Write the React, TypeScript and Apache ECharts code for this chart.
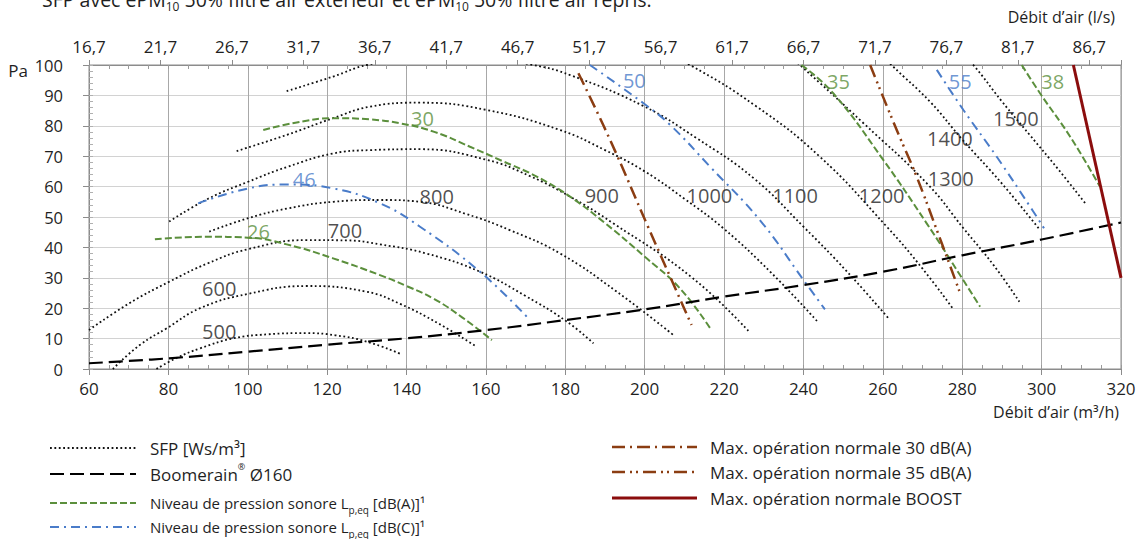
import React, { useEffect, useRef } from "react";
import * as echarts from "echarts";

const FONT = "'Open Sans', 'Noto Sans', sans-serif";

// ---------- axes ----------
const xMin = 60;
const xMax = 320;
const xStep = 20;
const yMin = 0;
const yMax = 100;
const yStep = 10;
// top axis: one tick every 5 l/s = 18 m3/h, counted from 60 m3/h
const topStep = 18;
const topTickLabels = ["16,7", "21,7", "26,7", "31,7", "36,7", "41,7", "46,7", "51,7", "56,7", "61,7", "66,7", "71,7", "76,7", "81,7", "86,7"];

// ---------- SFP iso-lines (x = m3/h, y = Pa) ----------
const sfp500 = [[77, 0], [82, 3.6], [88, 6.8], [96.4, 10.1], [105, 11.4], [114.9, 11.8], [122, 11.1], [130, 9], [138.8, 4.8]];
const sfp600 = [[66, 0], [72.8, 7.9], [79.6, 13.4], [88, 20], [100, 24.7], [114.9, 27.3], [130, 25.4], [138.4, 21.4], [148, 15], [157.3, 7.6]];
const sfp700 = [[60, 12.8], [70, 21.5], [80.2, 28.7], [90, 34.8], [100, 39.4], [114.9, 42.4], [125, 42.3], [133.3, 41], [145, 38], [158.5, 32], [170, 24], [180.4, 15.6], [187.1, 8.4]];
const sfp800 = [[90.3, 45.2], [100.1, 49.6], [110, 52.8], [121.5, 55], [133.3, 55.6], [143.4, 55], [155, 51], [166, 45.7], [178.7, 38], [193, 25.4], [207.2, 11.2]];
const sfp900 = [[80.2, 48.5], [90, 56], [100.1, 61.6], [110, 66.5], [121.5, 70.9], [130.8, 72], [143.4, 72.3], [160.2, 68.8], [171, 63.5], [181.2, 56.7], [192, 48], [212, 30], [226.5, 12]];
const sfp1000 = [[97.2, 71.7], [109.8, 77], [121.5, 82.5], [130.8, 86.3], [143.4, 87.6], [160.2, 85.2], [178.7, 78.6], [190, 72], [200, 65], [210, 56], [219.8, 46.3], [232, 31.5], [243.8, 15.2]];
const sfp1100 = [[109.8, 91.4], [121.5, 96.2], [130, 100], [150, 104.5], [171.9, 100], [181.2, 96.7], [199.7, 86.5], [213, 76], [227.5, 62.7], [240, 46.8], [251, 32], [261.4, 16.7]];
const sfp1200 = [[196, 110], [211.4, 100], [228, 86.5], [244, 70], [261, 46.8], [270, 33], [277.8, 19.6]];
const sfp1300 = [[226, 115], [239.1, 100], [255, 81], [271.5, 60.5], [280.3, 46.3], [288, 34], [294.4, 22.1]];
const sfp1400 = [[251, 115], [262.2, 100], [271.9, 87.9], [280, 75.5], [290, 61], [299.6, 45.7]];
const sfp1500 = [[273, 114], [282.8, 100], [290, 88], [297, 77], [304, 66], [311, 54.5]];
const sfpCurves = [sfp500, sfp600, sfp700, sfp800, sfp900, sfp1000, sfp1100, sfp1200, sfp1300, sfp1400, sfp1500];
const sfpLabels = [[92.8, 12.3, "500"], [92.8, 26.5, "600"], [124.5, 45.4, "700"], [147.6, 56.9, "800"], [189.2, 57.2, "900"], [216.3, 57.2, "1000"], [237.9, 57.2, "1100"], [259.7, 57.2, "1200"], [277.1, 62.7, "1300"], [276.9, 75.9, "1400"], [293.5, 82.5, "1500"]];

// ---------- system curve ----------
const boomerain = [[60, 1.9], [80, 3.5], [100, 5.7], [120, 8], [140, 10.1], [160, 12.8], [180, 16.1], [200, 19.6], [220, 23.8], [240, 27.6], [260, 32], [280, 37.4], [300, 42.6], [320, 48.2]];

// ---------- sound pressure dB(A) ----------
const dbA26 = [[76.6, 42.7], [89.6, 43.5], [100.1, 43.2], [109.8, 41], [121.5, 36.4], [133.3, 30.9], [140, 27.3], [147, 23], [154, 17], [161.5, 9.5]];
const dbA30 = [[103.9, 78.6], [112, 81], [121.5, 82.5], [130.8, 82.1], [138.4, 80.8], [147, 78], [156, 73.1], [164, 68.5], [172.8, 63.3], [181.2, 56.7], [190, 48], [200.5, 36.4], [208.9, 26.5], [216.5, 13.4]];
const dbA35 = [[239.5, 100], [247.5, 90.7], [260.1, 68.8], [271, 48], [279.4, 31], [284.5, 20.5]];
const dbA38 = [[295, 100], [299.6, 90.7], [307.2, 76.4], [314.7, 60]];
const dbACurves = [dbA26, dbA30, dbA35, dbA38];
const dbALabels = [[102.7, 45.2, "26"], [144, 82.5, "30"], [248.8, 94.5, "35"], [302.8, 94.5, "38"]];

// ---------- sound pressure dB(C) ----------
const dbC46 = [[87.5, 54.5], [100.1, 59.4], [110, 60.7], [121.5, 59.4], [133.3, 54.5], [143.4, 46.8], [158.5, 32], [170.3, 17.2]];
const dbC50 = [[186.2, 100], [199.7, 87.4], [206.4, 80.3], [216.5, 66.5], [229, 49], [240, 29.3], [245.4, 19.6]];
const dbC55 = [[273.6, 98.4], [280.3, 85.2], [288.7, 69.8], [297.1, 53.4], [300.6, 46.3]];
const dbCCurves = [dbC46, dbC50, dbC55];
const dbCLabels = [[114.2, 62.2, "46"], [197.4, 95, "50"], [279.5, 94.5, "55"]];

// ---------- operating limits ----------
const max30 = [[183.3, 97.3], [191.3, 75.3], [201, 46.3], [211.8, 14.5]];
const max35 = [[256.8, 100], [263.5, 78.6], [268.5, 63.3], [273.6, 45.7], [279.4, 25.2]];
const maxBoost = [[308, 100], [320, 30]];

// ---------- styles ----------
const GREEN = "#5b8f3c";
const BLUE = "#4a7cc9";
const BROWN = "#8b3d12";
const RED = "#8b0d0d";
const TXT = "#1f1f1f";

const styles = {
  sfp: { color: "#111", width: 1.8, type: [1.8, 2.6] as number[] },
  boom: { color: "#000", width: 2.2, type: [14, 6] as number[] },
  dbA: { color: GREEN, width: 2, type: [7, 3] as number[] },
  dbC: { color: BLUE, width: 2, type: [9, 5, 2, 5] as number[] },
  m30: { color: BROWN, width: 2.5, type: [13, 5, 2, 5] as number[] },
  m35: { color: BROWN, width: 2.5, type: [13, 5, 2, 4, 2, 5] as number[] },
  boost: { color: RED, width: 3, type: "solid" as const },
};

const NAME_SFP = "SFP [Ws/m³]";
const NAME_BOOM = "Boomerain® Ø160";
const NAME_DBA = "Niveau de pression sonore Lp,eq [dB(A)]¹";
const NAME_DBC = "Niveau de pression sonore Lp,eq [dB(C)]¹";
const NAME_M30 = "Max. opération normale 30 dB(A)";
const NAME_M35 = "Max. opération normale 35 dB(A)";
const NAME_BOOST = "Max. opération normale BOOST";

function lineSeries(name: string, data: number[][], ls: any, z: number) {
  return {
    type: "line",
    name,
    data,
    smooth: 0.45,
    symbol: "none",
    silent: true,
    z,
    lineStyle: { color: ls.color, width: ls.width, type: ls.type },
  };
}

function labelSeries(data: any[], color: string) {
  return {
    type: "scatter",
    data: data.map((d) => ({ value: [d[0], d[1]], name: d[2] })),
    symbolSize: 0,
    silent: true,
    z: 10,
    label: { show: true, position: "inside", formatter: "{b}", color, fontSize: 20, fontFamily: FONT },
  };
}

const legendLeft = [
  { text: NAME_SFP, small: false, ls: styles.sfp, y: 448 },
  { text: "Boomerain{sup|®} Ø160", small: false, ls: styles.boom, y: 474 },
  { text: "Niveau de pression sonore L{sub|p,eq} [dB(A)]¹", small: true, ls: styles.dbA, y: 503 },
  { text: "Niveau de pression sonore L{sub|p,eq} [dB(C)]¹", small: true, ls: styles.dbC, y: 527 },
];
const legendRight = [
  { text: NAME_M30, small: false, ls: styles.m30, y: 447 },
  { text: NAME_M35, small: false, ls: styles.m35, y: 472 },
  { text: NAME_BOOST, small: false, ls: styles.boost, y: 498 },
];

function legendGraphics(items: any[], x1: number, x2: number, tx: number) {
  const out: any[] = [];
  items.forEach((it) => {
    out.push({
      type: "line",
      shape: { x1, y1: it.y, x2, y2: it.y },
      style: {
        stroke: it.ls.color,
        lineWidth: it.ls.width,
        lineDash: Array.isArray(it.ls.type) ? it.ls.type : null,
      },
      silent: true,
    });
    out.push({
      type: "text",
      x: tx,
      y: it.y,
      style: {
        text: it.text,
        fill: TXT,
        fontFamily: FONT,
        fontSize: it.small ? 15 : 17,
        verticalAlign: "middle",
        rich: {
          sub: { fontSize: 10, verticalAlign: "bottom", lineHeight: 24, fontFamily: FONT, fill: TXT },
          sup: { fontSize: 9, verticalAlign: "top", lineHeight: 24, fontFamily: FONT, fill: TXT },
        },
      },
      silent: true,
    });
  });
  return out;
}

export default function App() {
  const ref = useRef<HTMLDivElement>(null);
  useEffect(() => {
    if (!ref.current) return;
    const chart = echarts.init(ref.current, null, { renderer: "svg" });
    const series: any[] = [];
    sfpCurves.forEach((c) => series.push(lineSeries(NAME_SFP, c, styles.sfp, 2)));
    dbACurves.forEach((c) => series.push(lineSeries(NAME_DBA, c, styles.dbA, 3)));
    dbCCurves.forEach((c) => series.push(lineSeries(NAME_DBC, c, styles.dbC, 3)));
    series.push(lineSeries(NAME_M30, max30, styles.m30, 4));
    series.push(lineSeries(NAME_M35, max35, styles.m35, 4));
    series.push(lineSeries(NAME_BOOM, boomerain, styles.boom, 5));
    series.push({ ...lineSeries(NAME_BOOST, maxBoost, styles.boost, 6), smooth: false });
    series.push(labelSeries(sfpLabels, TXT));
    series.push(labelSeries(dbALabels, GREEN));
    series.push(labelSeries(dbCLabels, BLUE));

    const axisLabelBase = { color: TXT, fontFamily: FONT, fontSize: 17 };
    const option: any = {
      animation: false,
      backgroundColor: "#fff",
      textStyle: { fontFamily: FONT },
      grid: { left: 89, right: 20, top: 65, bottom: 170, show: true, borderColor: "#8c8c8c", borderWidth: 1, containLabel: false },
      xAxis: [
        {
          type: "value", position: "bottom", min: xMin, max: xMax, interval: xStep,
          axisLine: { show: true, lineStyle: { color: "#8c8c8c" } },
          axisTick: { show: true, length: 6, lineStyle: { color: "#8c8c8c" } },
          axisLabel: { ...axisLabelBase, margin: 11 },
          splitLine: { show: true, lineStyle: { color: "#a8a8a8", width: 1 } },
        },
        {
          type: "value", position: "bottom", min: xMin, max: xMax, interval: 5,
          axisLine: { show: false },
          axisTick: { show: true, inside: true, length: 4, lineStyle: { color: "#9a9a9a" } },
          axisLabel: { show: false },
          splitLine: { show: false },
        },
        {
          type: "value", position: "top", min: 0, max: xMax - xMin, interval: topStep,
          axisLine: { show: true, lineStyle: { color: "#8c8c8c" } },
          axisTick: { show: true, length: 5, lineStyle: { color: "#8c8c8c" } },
          axisLabel: {
            ...axisLabelBase, margin: 10,
            formatter: (v: number) => {
              const k = v / topStep;
              if (Math.abs(k - Math.round(k)) > 1e-6) return "";
              return topTickLabels[Math.round(k)] ?? "";
            },
          },
          splitLine: { show: false },
        },
        {
          type: "value", position: "top", min: xMin, max: xMax, interval: 5,
          axisLine: { show: false },
          axisTick: { show: true, inside: true, length: 4, lineStyle: { color: "#9a9a9a" } },
          axisLabel: { show: false },
          splitLine: { show: false },
        },
      ],
      yAxis: [
        {
          type: "value", position: "left", min: yMin, max: yMax, interval: yStep,
          axisLine: { show: true, lineStyle: { color: "#8c8c8c" } },
          axisTick: { show: true, length: 6, lineStyle: { color: "#8c8c8c" } },
          axisLabel: { ...axisLabelBase, fontSize: 16.5, margin: 26 },
          splitLine: { show: true, lineStyle: { color: "#d2d2d2", width: 1 } },
        },
        {
          type: "value", position: "left", min: yMin, max: yMax, interval: 2,
          axisLine: { show: false },
          axisTick: { show: true, inside: true, length: 4, lineStyle: { color: "#b0b0b0" } },
          axisLabel: { show: false },
          splitLine: { show: false },
        },
      ],
      series,
      graphic: [
        {
          type: "text", x: 42, y: -14,
          style: {
            text: "SFP avec ePM{sub|10} 50% filtre air extérieur et ePM{sub|10} 50% filtre air repris.",
            fill: TXT, fontFamily: FONT, fontSize: 19.5, verticalAlign: "top",
            rich: { sub: { fontSize: 12, verticalAlign: "bottom", lineHeight: 26, fontFamily: FONT, fill: TXT } },
          },
          silent: true,
        },
        { type: "text", x: 18, y: 70, style: { text: "Pa", fill: TXT, fontFamily: FONT, fontSize: 17, align: "center", verticalAlign: "middle" }, silent: true },
        { type: "text", x: 1115, y: 17, style: { text: "Débit d’air (l/s)", fill: TXT, fontFamily: FONT, fontSize: 16, align: "right", verticalAlign: "middle" }, silent: true },
        { type: "text", x: 1119, y: 412, style: { text: "Débit d’air (m³/h)", fill: TXT, fontFamily: FONT, fontSize: 16, align: "right", verticalAlign: "middle" }, silent: true },
        ...legendGraphics(legendLeft, 50, 136, 150),
        ...legendGraphics(legendRight, 612, 697, 710),
      ],
    };
    chart.setOption(option);
    return () => chart.dispose();
  }, []);
  return <div ref={ref} style={{ position: "fixed", left: 0, top: 0, width: 1141, height: 539 }} />;
}
